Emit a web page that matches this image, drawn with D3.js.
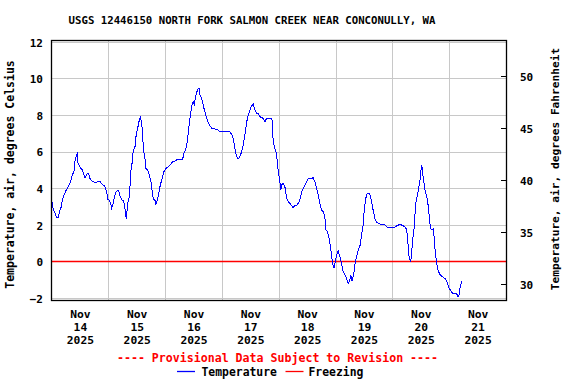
<!DOCTYPE html>
<html>
<head>
<meta charset="utf-8">
<script src="https://cdn.jsdelivr.net/npm/d3@7"></script>
<style>
  body { margin: 0; background: #fff; }
  text { font-family: "DejaVu Sans Mono", "Liberation Mono", monospace; font-weight: bold; }
</style>
</head>
<body>
<svg id="chart" width="576" height="384"></svg>
<script>
// station and series labels
const titleText = 'USGS 12446150 NORTH FORK SALMON CREEK NEAR CONCONULLY, WA';
const leftLabel = 'Temperature, air, degrees Celsius';
const rightLabel = 'Temperature, air, degrees Fahrenheit';
const provisionalText = '---- Provisional Data Subject to Revision ----';
const legendNames = ['Temperature', 'Freezing'];

// time span of the plot (local days)
const startDay = new Date(2025, 10, 14);
const endDay = new Date(2025, 10, 22);

// tick values
const celsiusTicks = [-2, 0, 2, 4, 6, 8, 10, 12];
const fahrenheitTicks = [30, 35, 40, 45, 50];
const freezingC = 0;

// air temperature: hours since Nov 14 00:00 and deg C
const tempHours = [
  0.11, 0.78, 1.50, 2.22, 2.89, 3.31, 4.03, 4.58, 5.30, 6.02, 6.69, 7.41, 8.13, 8.80, 9.52, 9.94,
  10.66, 10.91, 11.21, 11.63, 12.35, 13.02, 13.74, 14.16, 14.88, 15.56, 16.27, 17.25, 18.38, 20.50,
  21.47, 22.61, 23.32, 23.75, 24.42, 25.01, 25.44, 26.11, 26.53, 27.25, 27.97, 28.52, 29.07, 29.66,
  30.50, 31.05, 31.60, 32.19, 32.74, 33.16, 33.58, 34.13, 34.55, 35.27, 35.69, 36.24, 36.96, 37.51,
  38.10, 38.52, 38.94, 39.49, 39.91, 40.63, 41.31, 42.03, 42.57, 43.00, 43.71, 44.14, 44.69, 45.41,
  45.83, 46.54, 47.51, 48.36, 49.33, 50.34, 51.19, 52.16, 52.88, 54.27, 55.41, 55.96, 56.80, 57.35,
  57.77, 58.20, 58.79, 59.34, 59.88, 60.31, 60.73, 61.32, 61.87, 62.42, 62.71, 63.26, 63.85, 64.40,
  64.95, 65.54, 66.22, 66.93, 67.65, 69.04, 70.44, 71.15, 72.55, 73.98, 75.38, 76.09, 76.77, 77.49,
  78.21, 78.88, 79.60, 80.32, 80.99, 81.71, 82.43, 83.10, 83.82, 84.54, 85.21, 85.93, 86.65, 87.32,
  88.04, 89.43, 90.15, 90.87, 92.26, 93.11, 93.66, 94.37, 95.09, 95.51, 96.06, 96.48, 96.91, 97.20,
  97.88, 98.59, 99.31, 99.99, 100.71, 101.42, 102.10, 102.82, 103.53, 104.21, 104.93, 105.65, 106.32,
  107.04, 107.76, 108.43, 109.15, 109.87, 110.54, 111.26, 111.98, 112.65, 113.37, 114.09, 114.76,
  115.48, 115.90, 116.62, 117.30, 117.72, 118.31, 118.73, 119.28, 120.13, 120.67, 121.10, 121.82,
  122.53, 123.21, 123.93, 124.64, 125.32, 126.04, 126.46, 127.01, 127.60, 128.15, 128.87, 129.54,
  130.26, 130.98, 131.65, 132.07, 132.66, 133.34, 134.48, 135.20, 135.87, 136.59, 137.31, 137.98,
  139.42, 140.81, 142.21, 143.64, 144.74, 145.75, 147.14, 148.54, 149.68, 150.23, 150.65, 151.07,
  151.66, 152.08, 152.51, 153.06, 153.48, 153.90, 154.45, 155.04, 155.59, 156.01, 156.43, 156.86,
  157.28, 157.83, 158.42, 159.09, 159.51, 160.10, 160.78, 161.37, 161.79, 162.21, 162.63, 163.31,
  164.03, 164.74, 165.71, 166.56, 167.28, 167.95, 168.67, 169.64, 170.36, 171.08, 171.75, 172.17,
  172.77, 173.44
];
const tempC = [
  3.35, 2.80, 2.62, 2.40, 2.40, 2.71, 2.95, 3.35, 3.62, 3.84, 3.99, 4.17, 4.39, 4.72, 4.93, 5.48,
  5.85, 5.90, 5.36, 5.26, 5.08, 4.99, 4.72, 4.57, 4.75, 4.81, 4.53, 4.35, 4.32, 4.35,
  4.22, 4.08, 3.80, 3.40, 3.35, 3.17, 2.90, 3.17, 3.48, 3.80, 3.88, 3.80, 3.53, 3.35,
  3.30, 2.86, 2.31, 3.17, 3.44, 4.08, 4.99, 5.44, 6.08, 6.26, 6.81, 7.17, 7.63, 7.89,
  7.60, 6.81, 5.99, 5.63, 5.08, 4.99, 4.72, 4.35, 3.80, 3.40, 3.33, 3.11, 3.35, 3.80,
  4.08, 4.45, 4.90, 5.08, 5.17, 5.30, 5.44, 5.48, 5.54, 5.55, 5.59, 5.90, 6.17, 6.54,
  6.99, 7.54, 8.09, 8.54, 8.72, 8.57, 8.91, 9.23, 9.41, 9.45, 9.09, 8.94, 8.72, 8.36,
  8.09, 7.81, 7.60, 7.41, 7.27, 7.23, 7.17, 7.08, 7.10, 7.10, 7.08, 6.94, 6.72, 6.17,
  5.72, 5.59, 5.72, 5.99, 6.36, 6.90, 7.60, 7.99, 8.27, 8.50, 8.58, 8.27, 8.09, 8.09,
  7.90, 7.81, 7.63, 7.81, 7.81, 7.81, 6.54, 6.17, 5.90, 5.17, 4.72, 4.35, 3.90, 4.17,
  4.26, 4.08, 3.44, 3.26, 3.17, 3.04, 2.93, 3.08, 3.04, 3.17, 3.35, 3.80, 3.95,
  4.17, 4.35, 4.53, 4.51, 4.53, 4.57, 4.35, 3.99, 3.62, 3.17, 2.80, 2.71,
  2.44, 1.71, 1.62, 1.26, 0.89, 0.34, -0.11, -0.38, 0.16, 0.44, 0.56, 0.25,
  -0.11, -0.57, -0.71, -0.93, -1.20, -1.02, -0.75, -1.08, -0.75, -0.20, 0.25, 0.62,
  0.80, 1.44, 1.98, 2.71, 3.40, 3.69, 3.69, 3.26, 2.80, 2.35, 2.13, 2.08,
  2.02, 1.99, 1.84, 1.86, 1.84, 1.93, 2.02, 1.95, 1.84, 1.53, 0.89, 0.25,
  -0.02, 0.25, 1.16, 1.62, 2.44, 3.17, 3.53, 3.95, 4.35, 4.90, 5.26, 4.72,
  4.35, 3.84, 3.62, 3.08, 2.53, 1.80, 1.71, 1.80, 0.98, 0.44, -0.02, -0.48,
  -0.71, -0.79, -0.90, -0.97, -1.20, -1.44, -1.62, -1.75, -1.77, -1.75, -1.93, -1.84,
  -1.30, -1.08
];

const svg = d3.select('#chart');
const plot = { left: 51, right: 506, top: 40, bottom: 300 };

const x = d3.scaleTime().domain([startDay, endDay]).range([plot.left + 0.5, plot.right]);
const y = d3.scaleLinear().domain([-2.11, 12.09]).range([plot.bottom, plot.top]);
// right axis is drawn on its own scale, as in the source graph
const yF = d3.scaleLinear().domain([28.43, 53.47]).range([plot.bottom, plot.top]);

const series = tempHours.map((h, i) => ({ t: new Date(+startDay + h * 36e5), v: tempC[i] }));

// title
svg.append('text')
    .attr('x', 252)
    .attr('y', 24)
    .attr('text-anchor', 'middle')
    .style('font-size', '10.7px')
    .text(titleText);

// gridlines
const grid = svg.append('g').attr('class', 'grid')
    .attr('stroke', '#c8c8c8')
    .attr('stroke-width', 1)
    .attr('shape-rendering', 'crispEdges');
grid.selectAll('.hgrid')
    .data(celsiusTicks.filter(d => d !== freezingC))
    .join('line')
    .attr('class', 'hgrid')
    .attr('x1', plot.left)
    .attr('x2', plot.right)
    .attr('y1', d => Math.round(y(d)) + 0.5)
    .attr('y2', d => Math.round(y(d)) + 0.5);
grid.selectAll('.vgrid')
    .data(d3.timeDay.range(d3.timeDay.offset(startDay, 1), endDay))
    .join('line')
    .attr('class', 'vgrid')
    .attr('x1', d => Math.round(x(d)) + 0.5)
    .attr('x2', d => Math.round(x(d)) + 0.5)
    .attr('y1', plot.top)
    .attr('y2', plot.bottom);

// freezing line
svg.append('line')
    .attr('x1', plot.left)
    .attr('x2', plot.right)
    .attr('y1', Math.round(y(freezingC)) + 0.5)
    .attr('y2', Math.round(y(freezingC)) + 0.5)
    .attr('stroke', 'red')
    .attr('stroke-width', 1.3);

// temperature trace
svg.append('path')
    .datum(series)
    .attr('fill', 'none')
    .attr('stroke', '#0000ff')
    .attr('stroke-width', 1)
    .attr('shape-rendering', 'crispEdges')
    .attr('d', d3.line().x(d => x(d.t)).y(d => y(d.v)));

// frame
svg.append('rect')
    .attr('x', plot.left + 0.5)
    .attr('y', plot.top + 0.5)
    .attr('width', plot.right - plot.left)
    .attr('height', plot.bottom - plot.top)
    .attr('fill', 'none')
    .attr('stroke', '#000')
    .attr('stroke-width', 1.3);

// left axis
const leftAxis = svg.append('g')
    .attr('transform', 'translate(' + plot.left + ',0)')
    .call(d3.axisLeft(y).tickValues(celsiusTicks).tickSize(0).tickPadding(8));
leftAxis.select('.domain').remove();
leftAxis.selectAll('text')
    .attr('dy', '0.4em')
    .style('font-size', '11px')
    .style('font-family', null);

// right axis
const rightAxis = svg.append('g')
    .attr('transform', 'translate(' + plot.right + ',0)')
    .call(d3.axisRight(yF).tickValues(fahrenheitTicks).tickSizeInner(-5).tickSizeOuter(0).tickPadding(14));
rightAxis.select('.domain').remove();
rightAxis.selectAll('line').attr('shape-rendering', 'crispEdges').attr('stroke-width', 1.2);
rightAxis.selectAll('text')
    .attr('x', 14)
    .attr('dy', '0.4em')
    .style('font-size', '11px')
    .style('font-family', null);

// bottom labels at noon of each day
const days = d3.timeDay.range(startDay, endDay);
const fmtMon = d3.timeFormat('%b');
const fmtDay = d3.timeFormat('%d');
const fmtYear = d3.timeFormat('%Y');
const bottomAxis = svg.append('g')
    .attr('transform', 'translate(0,' + plot.bottom + ')')
    .call(d3.axisBottom(x).tickValues(days.map(d => d3.timeHour.offset(d, 12))).tickSize(0).tickFormat(''));
bottomAxis.select('.domain').remove();
bottomAxis.selectAll('.tick text')
    .style('font-size', '11.3px')
    .style('font-family', null)
    .attr('y', 0)
    .attr('dy', null)
    .each(function (d) {
        const t = d3.select(this);
        [fmtMon(d), fmtDay(d), fmtYear(d)].forEach((s, i) => {
            t.append('tspan').attr('x', 0).attr('y', 18 + i * 13).text(s);
        });
    });

// axis titles
svg.append('text')
    .attr('transform', 'translate(14,174.5) rotate(-90)')
    .attr('text-anchor', 'middle')
    .style('font-size', '11.5px')
    .text(leftLabel);
svg.append('text')
    .attr('transform', 'translate(559,169) rotate(-90)')
    .attr('text-anchor', 'middle')
    .style('font-size', '11.2px')
    .text(rightLabel);

// provisional note
svg.append('text')
    .attr('x', 277.5)
    .attr('y', 362)
    .attr('text-anchor', 'middle')
    .attr('fill', '#ff0000')
    .style('font-size', '11.6px')
    .text(provisionalText);

// legend
const legendItems = [
  { name: legendNames[0], color: '#0000ff', x0: 177, textX: 201.5 },
  { name: legendNames[1], color: '#ff0000', x0: 285.5, textX: 308.5 }
];
const legend = svg.append('g');
legend.selectAll('line')
    .data(legendItems)
    .join('line')
    .attr('x1', d => d.x0)
    .attr('x2', d => d.x0 + 18)
    .attr('y1', 371.5)
    .attr('y2', 371.5)
    .attr('stroke', d => d.color)
    .attr('stroke-width', 1.3);
legend.selectAll('text')
    .data(legendItems)
    .join('text')
    .attr('x', d => d.textX)
    .attr('y', 376)
    .style('font-size', '11.4px')
    .text(d => d.name);
</script>
</body>
</html>
